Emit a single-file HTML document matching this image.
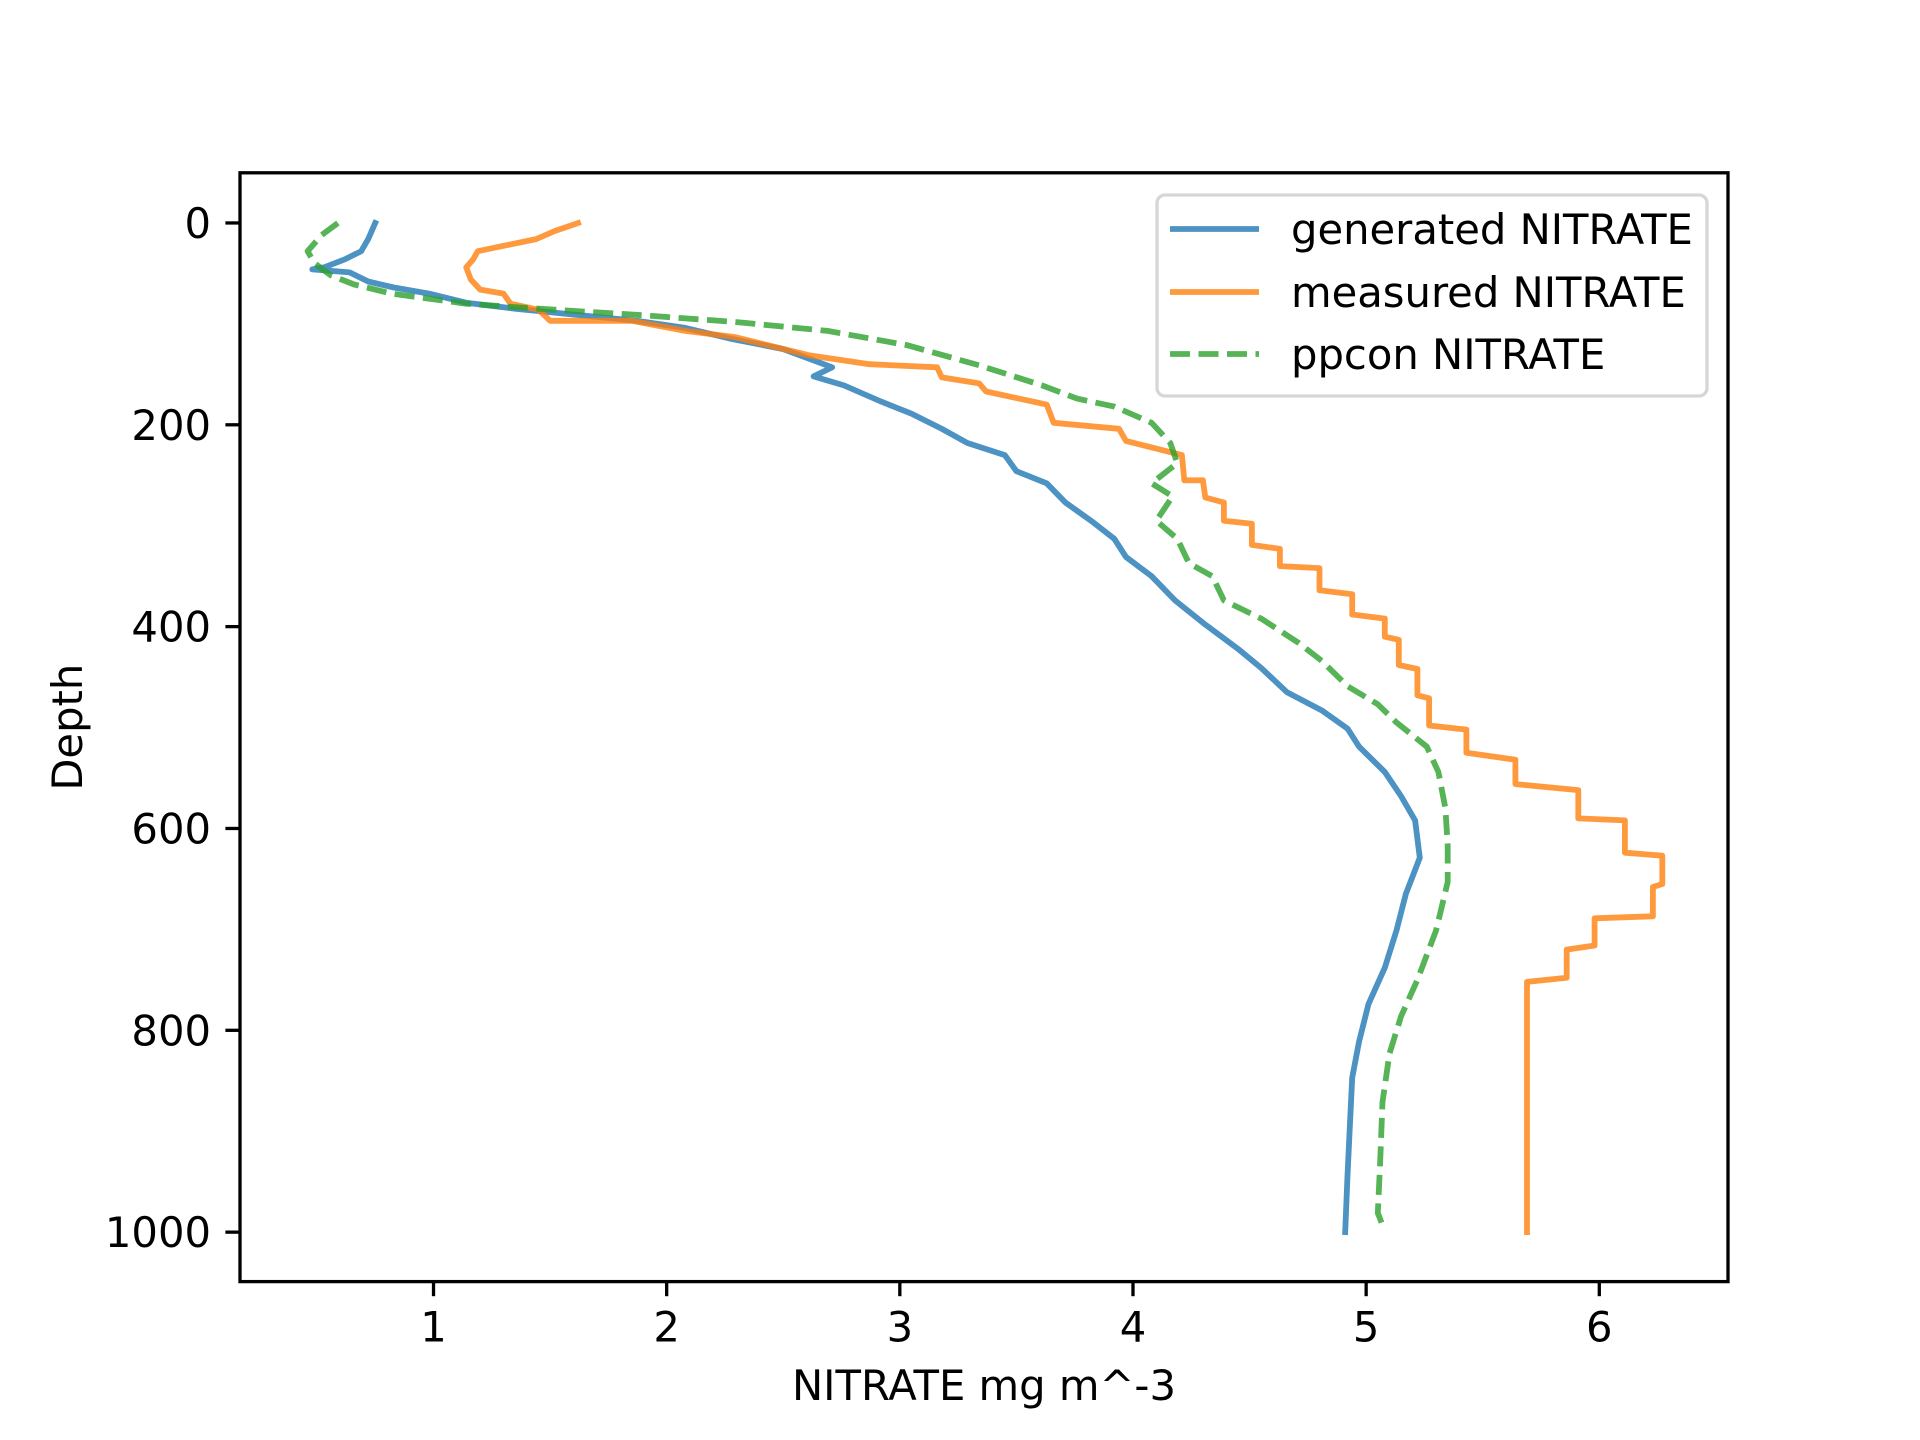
<!DOCTYPE html>
<html><head><meta charset="utf-8"><style>
html,body{margin:0;padding:0;background:#fff;}
svg{display:block;font-family:"DejaVu Sans","Liberation Sans",sans-serif;}
</style></head><body>
<svg id="chart" width="1920" height="1440" viewBox="0 0 1920 1440" xmlns="http://www.w3.org/2000/svg">
<rect width="1920" height="1440" fill="#fff"/>
<g id="series"></g>
<g id="axes"></g>
</svg>
<script>
const xTicks = [1, 2, 3, 4, 5, 6];
const yTicks = [0, 200, 400, 600, 800, 1000];
const seriesNames = ["generated NITRATE", "measured NITRATE", "ppcon NITRATE"];
const generatedDepth = [0,16,28,36,44,46,49,58,64,70,79,85,91,97,104,115,125,143,152,161,177,189,204,218,230,246,258,277,295,313,331,350,374,398,422,441,465,483,501,519,544,568,592,629,665,701,738,774,811,847,896,944,1000];
const generatedValue = [0.75,0.72,0.69,0.62,0.53,0.48,0.64,0.72,0.83,0.98,1.14,1.35,1.61,1.87,2.08,2.28,2.50,2.71,2.63,2.76,2.92,3.05,3.18,3.29,3.45,3.50,3.63,3.71,3.82,3.92,3.97,4.08,4.18,4.31,4.45,4.55,4.66,4.81,4.92,4.97,5.08,5.15,5.21,5.23,5.17,5.13,5.08,5.01,4.97,4.94,4.93,4.92,4.91];
const measuredDepth = [0,8,16,28,36,44,56,66,70,80,86,97,97,107,113,131,140,143,153,159,167,180,198,204,216,230,255,255,272,277,295,298,319,323,340,342,364,368,388,392,410,413,438,442,468,471,498,502,525,532,556,562,590,592,624,627,655,658,687,689,716,720,748,752,1000];
const measuredValue = [1.62,1.52,1.44,1.19,1.17,1.14,1.16,1.20,1.30,1.33,1.45,1.50,1.85,2.08,2.29,2.61,2.87,3.16,3.18,3.34,3.37,3.63,3.66,3.94,3.97,4.21,4.22,4.30,4.31,4.39,4.39,4.51,4.51,4.63,4.63,4.80,4.80,4.94,4.94,5.08,5.08,5.14,5.14,5.22,5.22,5.27,5.27,5.43,5.43,5.64,5.64,5.91,5.91,6.11,6.11,6.27,6.27,6.23,6.23,5.98,5.98,5.86,5.86,5.69,5.69];
const ppconDepth = [0,12,28,40,52,61,70,80,85,91,98,107,121,141,161,174,182,198,218,238,258,271,295,313,337,350,374,392,416,434,459,477,495,519,544,580,617,653,701,750,786,823,871,932,981,993];
const ppconValue = [0.59,0.52,0.46,0.49,0.56,0.66,0.82,1.14,1.45,1.87,2.29,2.69,3.03,3.34,3.61,3.76,3.92,4.08,4.16,4.19,4.08,4.17,4.10,4.19,4.24,4.34,4.39,4.55,4.71,4.81,4.92,5.05,5.13,5.26,5.31,5.34,5.35,5.35,5.30,5.22,5.15,5.10,5.07,5.06,5.05,5.07];

const NS = "http://www.w3.org/2000/svg";
const L = 240, R = 1728, T = 172.8, B = 1281.6;
const xMin = 0.17, xMax = 6.552, yMin = -49.7, yMax = 1049;
const FS = 41.7;
function sx(v){ return L + (v - xMin) / (xMax - xMin) * (R - L); }
function sy(d){ return T + (d - yMin) / (yMax - yMin) * (B - T); }
function mk(tag, attrs, parent){ const e = document.createElementNS(NS, tag); for (const k in attrs) e.setAttribute(k, attrs[k]); parent.appendChild(e); return e; }

const seriesG = document.getElementById('series');
const axesG = document.getElementById('axes');
const colors = ["#1f77b4", "#ff7f0e", "#2ca02c"];
const dashes = [null, null, "20 8.5"];
const depths = [generatedDepth, measuredDepth, ppconDepth];
const values = [generatedValue, measuredValue, ppconValue];
const lineNames = ["generated-line", "measured-line", "ppcon-line"];
for (let s = 0; s < 3; s++) {
  const pts = depths[s].map((d, i) => sx(values[s][i]).toFixed(1) + "," + sy(d).toFixed(1)).join(" ");
  const pl = mk('polyline', {points: pts, fill: 'none', stroke: colors[s], 'stroke-width': 5.8, 'stroke-opacity': 0.8, 'stroke-linejoin': 'round', 'stroke-linecap': dashes[s] ? 'butt' : 'square'}, seriesG);
  if (dashes[s]) pl.setAttribute('stroke-dasharray', dashes[s]);
  
  
}

const frame = mk('rect', {x: L, y: T, width: R - L, height: B - T, fill: 'none', stroke: '#000', 'stroke-width': 3.3}, axesG);



xTicks.forEach(v => {
  const x = sx(v);
  const t = mk('line', {x1: x, x2: x, y1: B, y2: B + 14.6, stroke: '#000', 'stroke-width': 3.3}, axesG);
  
  
  const lb = mk('text', {x: x, y: B + 60, 'font-size': FS, 'text-anchor': 'middle', fill: '#000'}, axesG);
  lb.textContent = String(v);
  
  
});
yTicks.forEach(v => {
  const y = sy(v);
  const t = mk('line', {x1: L - 14.6, x2: L, y1: y, y2: y, stroke: '#000', 'stroke-width': 3.3}, axesG);
  
  
  const lb = mk('text', {x: L - 29, y: y + 15, 'font-size': FS, 'text-anchor': 'end', fill: '#000'}, axesG);
  lb.textContent = String(v);
  
  
});
const xl = mk('text', {x: (L + R) / 2, y: 1400, 'font-size': FS, 'text-anchor': 'middle', fill: '#000'}, axesG);
xl.textContent = 'NITRATE mg m^-3';


const yl = mk('text', {x: 0, y: 0, 'font-size': FS, 'text-anchor': 'middle', fill: '#000', transform: 'translate(82,' + ((T + B) / 2) + ') rotate(-90)'}, axesG);
yl.textContent = 'Depth';



const lg = mk('g', {}, axesG);


mk('rect', {x: 1157, y: 195, width: 550, height: 201, rx: 8, fill: '#fff', 'fill-opacity': 0.8, stroke: '#d6d6d6', 'stroke-width': 3.3}, lg);
const legY = [229, 292, 354];
for (let s = 0; s < 3; s++) {
  const ent = mk('g', {}, lg);
  
  
  const hl = mk('line', {x1: 1170, x2: 1259, y1: legY[s], y2: legY[s], stroke: colors[s], 'stroke-width': 5.8, 'stroke-opacity': 0.8}, ent);
  if (dashes[s]) hl.setAttribute('stroke-dasharray', dashes[s]);
  const tx = mk('text', {x: 1291, y: legY[s] + 15, 'font-size': FS, fill: '#000'}, ent);
  tx.textContent = seriesNames[s];
}
</script>
</body></html>
